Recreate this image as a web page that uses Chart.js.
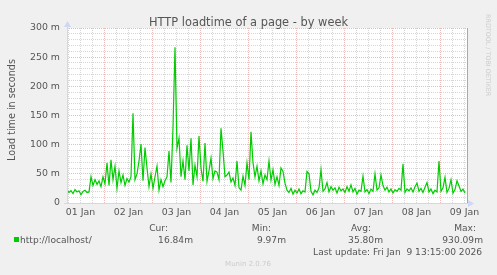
<!DOCTYPE html>
<html>
<head>
<meta charset="utf-8">
<script src="https://cdn.jsdelivr.net/npm/chart.js@4/dist/chart.umd.min.js"></script>
<style>
html, body { margin: 0; padding: 0; background: #f0f0f0; }
canvas { display: block; }
</style>
</head>
<body>
<canvas id="chart" width="497" height="275"></canvas>
<script>
// hourly load time samples (ms), first one at 01 Jan 05:15
const startHour = 5.25;
const loadTime = [
  22, 18, 21, 16, 23, 19, 21, 14, 20, 22, 18, 19,
  45, 30, 40, 32, 38, 28, 45, 33,
  69, 30, 74, 40, 63, 25, 55, 35, 48, 30,
  42, 36, 45, 154, 40, 50, 72, 101, 38, 95,
  60, 28, 50, 25, 45, 63, 22, 40, 28, 38,
  45, 89, 35, 130, 267, 94, 111, 45, 72, 40,
  99, 55, 111, 31, 65, 45, 115, 60, 37, 103,
  37, 55, 77, 42, 55, 53, 40, 128, 89, 45,
  48, 53, 36, 43, 30, 72, 26, 22, 46, 30,
  69, 40, 122, 69, 45, 63, 38, 55, 33, 48,
  40, 72, 39, 57, 32, 45, 30, 60, 54, 34,
  22, 18, 25, 15, 22, 17, 24, 16, 21, 19,
  54, 50, 20, 14, 22, 18, 26, 57, 20, 24,
  35, 19, 28, 22, 26, 17, 27, 21, 24, 18,
  28, 20, 31, 19, 25, 15, 22, 20, 46, 19,
  23, 16, 24, 20, 50, 22, 26, 48, 30, 22,
  27, 19, 24, 17, 23, 20, 25, 22, 67, 18,
  24, 21, 26, 19, 28, 34, 20, 25, 18, 27,
  35, 19, 24, 16, 22, 19, 72, 20, 26, 44,
  18, 25, 40, 17, 23, 38, 29, 20, 24, 17
];
const dayLabels = ['01 Jan', '02 Jan', '03 Jan', '04 Jan', '05 Jan', '06 Jan', '07 Jan', '08 Jan', '09 Jan'];
const yTickLabels = ['0', '50 m', '100 m', '150 m', '200 m', '250 m', '300 m'];
const statNames = ['Cur:', 'Min:', 'Avg:', 'Max:'];
const statValues = ['16.84m', '9.97m', '35.80m', '930.09m'];

const FONT = '"DejaVu Sans", sans-serif';
const MINOR = '#d6d6d6';
const MAJOR = '#ecbcbc';
const AXIS = '#cfd6f8';

// rrdtool look: canvas colours, axis arrows, legend and side texts
const rrdFrame = {
  id: 'rrdFrame',
  beforeDraw(chart) {
    const { ctx, chartArea: a } = chart;
    ctx.save();
    ctx.fillStyle = '#f0f0f0';
    ctx.fillRect(0, 0, chart.width, chart.height);
    ctx.fillStyle = '#ffffff';
    ctx.fillRect(a.left, a.top, a.right - a.left, a.bottom - a.top);
    ctx.restore();
  },
  afterDraw(chart) {
    const { ctx, chartArea: a } = chart;
    const L = Math.round(a.left), B = Math.round(a.bottom), R = Math.round(a.right), T = Math.round(a.top);
    ctx.save();
    // right frame
    ctx.fillStyle = '#a8a8a8';
    ctx.fillRect(R, T, 1, B - T + 1);
    // axes + arrows
    ctx.fillStyle = AXIS;
    ctx.fillRect(L, T - 4, 1, B - T + 4);
    ctx.fillRect(L - 3, B, R - L + 6, 1);
    ctx.beginPath();
    ctx.moveTo(L - 3, T - 1); ctx.lineTo(L + 4, T - 1); ctx.lineTo(L + 0.5, T - 7); ctx.closePath();
    ctx.fill();
    ctx.beginPath();
    ctx.moveTo(R + 1, B - 3); ctx.lineTo(R + 1, B + 4); ctx.lineTo(R + 7, B + 0.5); ctx.closePath();
    ctx.fill();

    ctx.fillStyle = '#555';
    ctx.font = '11.4px ' + FONT;
    ctx.textAlign = 'center';
    ctx.textBaseline = 'alphabetic';
    ctx.fillText('HTTP loadtime of a page - by week', 248.5, 26);

    ctx.font = '9.6px ' + FONT;
    ctx.save();
    ctx.translate(12, 110);
    ctx.rotate(-Math.PI / 2);
    ctx.textBaseline = 'middle';
    ctx.fillText('Load time in seconds', 0, 0);
    ctx.restore();

    // legend
    ctx.font = '9.1px ' + FONT;
    ctx.textAlign = 'right';
    const headRight = [168, 271, 371, 476];
    const valRight = [193, 286, 383, 483];
    statNames.forEach((s, i) => ctx.fillText(s, headRight[i], 231));
    statValues.forEach((s, i) => ctx.fillText(s, valRight[i], 243));
    ctx.fillText('Last update: Fri Jan  9 13:15:00 2026', 482, 255);
    ctx.textAlign = 'left';
    ctx.fillText('http://localhost/', 20, 243);
    ctx.fillStyle = '#00cc00';
    ctx.fillRect(14, 237, 5, 5);

    ctx.fillStyle = '#cccccc';
    ctx.font = '7px ' + FONT;
    ctx.textAlign = 'center';
    ctx.fillText('Munin 2.0.76', 248, 265.5);

    ctx.save();
    ctx.translate(487.5, 14);
    ctx.rotate(Math.PI / 2);
    ctx.font = '6.4px ' + FONT;
    ctx.textAlign = 'left';
    ctx.textBaseline = 'middle';
    ctx.fillText('RRDTOOL / TOBI OETIKER', 0, 0);
    ctx.restore();
    ctx.restore();
  }
};

new Chart(document.getElementById('chart'), {
  type: 'line',
  data: {
    datasets: [{
      data: loadTime.map((v, i) => ({ x: startHour + i, y: v })),
      borderColor: '#00cc00',
      borderWidth: 1.2,
      pointRadius: 0,
      tension: 0,
      fill: false
    }]
  },
  options: {
    responsive: false,
    animation: false,
    devicePixelRatio: 1,
    layout: { padding: { left: 0, top: 28, right: 30, bottom: 0 } },
    plugins: { legend: { display: false }, tooltip: { enabled: false }, title: { display: false } },
    scales: {
      x: {
        type: 'linear',
        min: 5.25,
        max: 205.25,
        afterBuildTicks: s => {
          s.ticks = [];
          for (let h = 6; h <= 204; h += 6) s.ticks.push({ value: h });
        },
        afterFit: s => { s.height = 72; },
        ticks: {
          autoSkip: false, maxRotation: 0, padding: 4, color: '#555',
          font: { family: FONT, size: 9.4 },
          callback: v => (v % 24 === 12 ? dayLabels[(v - 12) / 24] : '')
        },
        grid: {
          drawTicks: false,
          color: c => (c.tick && c.tick.value % 24 === 0 ? MAJOR : MINOR)
        },
        border: { display: false, dash: [1, 1] }
      },
      y: {
        min: 0,
        max: 300,
        afterBuildTicks: s => {
          s.ticks = [];
          for (let v = 0; v <= 300; v += 10) s.ticks.push({ value: v });
        },
        afterFit: s => { s.width = 67; },
        ticks: {
          autoSkip: false, padding: 7, color: '#555',
          font: { family: FONT, size: 9.4 },
          callback: v => (v % 50 === 0 ? yTickLabels[v / 50] : '')
        },
        grid: {
          drawTicks: false,
          color: c => (c.tick && c.tick.value % 50 === 0 ? MAJOR : MINOR)
        },
        border: { display: false, dash: [1, 1] }
      }
    }
  },
  plugins: [rrdFrame]
});
</script>
</body>
</html>
